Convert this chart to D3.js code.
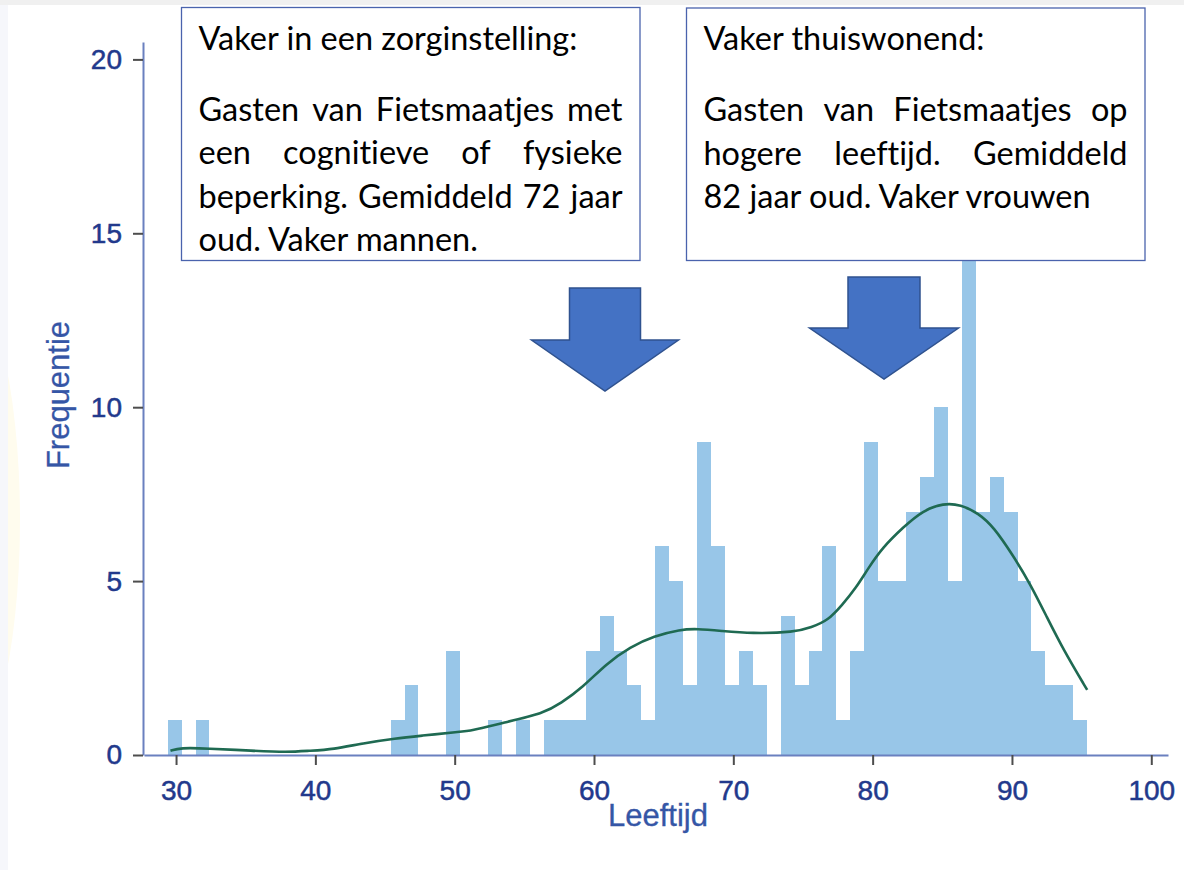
<!DOCTYPE html>
<html>
<head>
<meta charset="utf-8">
<script src="https://cdn.jsdelivr.net/npm/d3@7"></script>
<style>
  body { margin: 0; background: #fff; }
  svg { display: block; }
  text { font-variant-ligatures: none; }
</style>
</head>
<body>
<div id="chart"></div>
<script>
// histogram: one bar per year of age (30 .. 95)
const ages = d3.range(30, 96);
const counts = [
  1, 0, 1, 0, 0, 0, 0, 0, 0, 0,   // 30-39
  0, 0, 0, 0, 0, 0, 1, 2, 0, 0,   // 40-49
  3, 0, 0, 1, 0, 1, 0, 1, 1, 1,   // 50-59
  3, 4, 3, 2, 1, 6, 5, 2, 9, 6,   // 60-69
  2, 3, 2, 0, 4, 2, 3, 6, 1, 3,   // 70-79
  9, 5, 5, 7, 8, 10, 5, 15, 7, 8, // 80-89
  7, 5, 3, 2, 2, 1                // 90-95
];

// kernel density line, in frequency units
const densAge = [29.6, 30.3, 32.2, 35.5, 38.0, 39.5, 41.3, 43.4, 45.8, 47.5, 50.4, 51.1,
  53.5, 56.4, 57.6, 59.2, 60.9, 62.6, 64.3, 66.2, 67.4, 69.1, 71.3, 74.4, 75.6, 76.8,
  77.8, 78.8, 79.7, 80.7, 82.2, 83.6, 85.1, 86.3, 87.6, 88.7, 90.1, 91.3, 92.5, 93.7, 95.4];
const densFreq = [0.12, 0.21, 0.19, 0.12, 0.08, 0.12, 0.16, 0.34, 0.48, 0.55, 0.67, 0.69,
  0.93, 1.20, 1.48, 1.95, 2.63, 3.11, 3.42, 3.61, 3.63, 3.57, 3.49, 3.53, 3.67, 3.87,
  4.31, 4.80, 5.38, 5.96, 6.55, 7.03, 7.24, 7.20, 6.95, 6.55, 5.72, 4.93, 3.97, 3.02, 1.87];

const xTicks = [30, 40, 50, 60, 70, 80, 90, 100];
const yTicks = [0, 5, 10, 15, 20];

const leftTitle = "Vaker in een zorginstelling:";
const leftLines = ["Gasten van Fietsmaatjes met", "een cognitieve of fysieke",
  "beperking. Gemiddeld 72 jaar", "oud. Vaker mannen."];
const rightTitle = "Vaker thuiswonend:";
const rightLines = ["Gasten van Fietsmaatjes op", "hogere leeftijd. Gemiddeld",
  "82 jaar oud. Vaker vrouwen"];

const width = 1184, height = 870;
const binOffset = 0.6; // bins run from age-0.6 to age+0.4

const svg = d3.select("#chart").append("svg")
  .attr("width", width)
  .attr("height", height);

// faint page background bits
svg.append("rect").attr("x", 0).attr("y", 0).attr("width", width).attr("height", 5).attr("fill", "#f0f0f0");
svg.append("ellipse").attr("cx", -45).attr("cy", 520).attr("rx", 65).attr("ry", 250)
  .attr("fill", "#fffcee");
svg.append("rect").attr("x", 0).attr("y", 5).attr("width", 8).attr("height", height).attr("fill", "#f6f7fb");

const x = d3.scaleLinear().domain([27.7, 101.2]).range([144, 1168]);
const y = d3.scaleLinear().domain([0, 20.5]).range([755, 42]);

// bars
svg.append("g")
  .selectAll("rect")
  .data(ages.map((a, i) => ({ age: a, n: counts[i] })).filter(d => d.n > 0))
  .join("rect")
  .attr("x", d => x(d.age - binOffset))
  .attr("width", d => x(d.age + 1 - binOffset) - x(d.age - binOffset))
  .attr("y", d => y(d.n))
  .attr("height", d => y(0) - y(d.n))
  .attr("fill", "#98c6e8")
  .attr("shape-rendering", "crispEdges");

// density line
const line = d3.line()
  .x((d, i) => x(densAge[i]))
  .y(d => y(d))
  .curve(d3.curveBasis);

svg.append("path")
  .datum(densFreq)
  .attr("d", line)
  .attr("fill", "none")
  .attr("stroke", "#1f6a52")
  .attr("stroke-width", 2.6);

// axes
const axisFont = "'Liberation Sans', Arial, sans-serif";

const xAxis = svg.append("g")
  .attr("transform", `translate(0,${y(0)})`)
  .call(d3.axisBottom(x).tickValues(xTicks).tickSize(10).tickPadding(15).tickSizeOuter(0));

const yAxis = svg.append("g")
  .attr("transform", `translate(${x.range()[0] - 1},0)`)
  .call(d3.axisLeft(y).tickValues(yTicks).tickSize(10).tickPadding(11).tickSizeOuter(0));

[xAxis, yAxis].forEach(g => {
  g.select(".domain").attr("stroke", "#6a80bf").attr("stroke-width", 2);
  g.selectAll(".tick line").attr("stroke", "#4d4d4d").attr("stroke-width", 2);
  g.selectAll(".tick text")
    .attr("fill", "#22398c")
    .attr("stroke", "#22398c")
    .attr("stroke-width", 0.5)
    .style("font-family", axisFont)
    .style("font-size", "28px");
});

const axisTitle = (sel) => sel
  .attr("text-anchor", "middle")
  .attr("fill", "#3556a6")
  .attr("stroke", "#3556a6")
  .attr("stroke-width", 0.3)
  .style("font-family", axisFont)
  .style("font-size", "31px");

svg.append("text")
  .attr("x", 658)
  .attr("y", 826)
  .call(axisTitle)
  .text("Leeftijd");

svg.append("text")
  .attr("transform", "translate(69,395) rotate(-90)")
  .call(axisTitle)
  .text("Frequentie");

// arrows
function drawArrow(cx, top, shaftW, shaftH, headW, headH) {
  const p = d3.path();
  p.moveTo(cx - shaftW / 2, top);
  p.lineTo(cx + shaftW / 2, top);
  p.lineTo(cx + shaftW / 2, top + shaftH);
  p.lineTo(cx + headW / 2, top + shaftH);
  p.lineTo(cx, top + shaftH + headH);
  p.lineTo(cx - headW / 2, top + shaftH);
  p.lineTo(cx - shaftW / 2, top + shaftH);
  p.closePath();
  svg.append("path")
    .attr("d", p.toString())
    .attr("fill", "#4472c4")
    .attr("stroke", "#2f528f")
    .attr("stroke-width", 1.5);
}
drawArrow(605, 288, 71, 52, 147, 51);
drawArrow(884, 277, 72, 51, 149, 51);

// text boxes
const noteFont = "Lato, 'Open Sans', sans-serif";

// fit the font so the heading has the width seen in the picture
const probe = svg.append("text").style("font-family", noteFont).style("font-size", "100px").text(leftTitle);
const noteSize = 100 * 379 / probe.node().getComputedTextLength();
probe.remove();

function measure(str) {
  const t = svg.append("text").style("font-family", noteFont).style("font-size", noteSize + "px").text(str);
  const w = t.node().getComputedTextLength();
  t.remove();
  return w;
}

function drawNote(bx, by, bw, bh, title, lines) {
  const g = svg.append("g");
  g.append("rect")
    .attr("x", bx).attr("y", by).attr("width", bw).attr("height", bh)
    .attr("fill", "#fff")
    .attr("stroke", "#4a63ad")
    .attr("stroke-width", 1.3);

  const left = bx + 17, right = bx + bw - 17.5;
  const txt = (str, tx, ty) => g.append("text")
    .attr("x", tx).attr("y", ty)
    .attr("fill", "#000")
    .style("font-family", noteFont)
    .style("font-size", noteSize + "px")
    .text(str);

  txt(title, left, by + 42);

  lines.forEach((ln, i) => {
    const ty = by + 113 + i * 43.5;
    const words = ln.split(" ");
    if (i === lines.length - 1 || words.length < 2) {
      txt(ln, left, ty);
      return;
    }
    const ws = words.map(measure);
    const gap = (right - left - d3.sum(ws)) / (words.length - 1);
    let cx = left;
    words.forEach((w, j) => {
      txt(w, cx, ty);
      cx += ws[j] + gap;
    });
  });
}

drawNote(181.5, 7.5, 458.5, 253, leftTitle, leftLines);
drawNote(686.5, 8, 458.5, 252.5, rightTitle, rightLines);
</script>
</body>
</html>
